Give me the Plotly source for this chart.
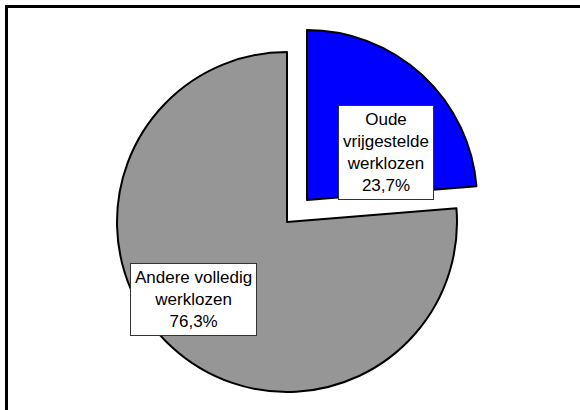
import plotly.graph_objects as go

labels = ["Oude vrijgestelde werklozen", "Andere volledig werklozen"]
values = [23.7, 76.3]
label_texts = ["Oude<br>vrijgestelde<br>werklozen<br>23,7%", "Andere volledig<br>werklozen<br>76,3%"]
colors = ["#0000FF", "#969696"]

W, H = 580, 410

def dom_x(a, b):
    return [a / W, b / W]

def dom_y(top, bottom):
    return [(H - bottom) / H, (H - top) / H]

fig = go.Figure()

# Main (unpulled) slice: grey
fig.add_trace(go.Pie(
    labels=labels, values=values, sort=False, direction="clockwise", rotation=0,
    marker=dict(colors=["rgba(0,0,0,0)", colors[1]],
                line=dict(color=["rgba(0,0,0,0)", "black"], width=[0, 2])),
    textinfo="none", hoverinfo="label+percent", showlegend=False,
    domain=dict(x=dom_x(117, 457), y=dom_y(52, 392)),
))
# Exploded slice: blue
fig.add_trace(go.Pie(
    labels=labels, values=values, sort=False, direction="clockwise", rotation=0,
    marker=dict(colors=[colors[0], "rgba(0,0,0,0)"],
                line=dict(color=["black", "rgba(0,0,0,0)"], width=[2, 0])),
    textinfo="none", hoverinfo="label+percent", showlegend=False,
    domain=dict(x=dom_x(137, 477), y=dom_y(30, 370)),
))

ann_pos = [(386, 152), (193, 299.5)]
for txt, (px, py) in zip(label_texts, ann_pos):
    fig.add_annotation(
        x=px / W, y=1 - py / H, xref="paper", yref="paper",
        xanchor="center", yanchor="middle",
        text=txt, showarrow=False, align="center",
        font=dict(family="Liberation Sans, Arial, sans-serif", size=17, color="black"),
        bgcolor="white", bordercolor="#333333", borderwidth=1, borderpad=4,
    )

fig.add_shape(type="rect", xref="paper", yref="paper",
              x0=6.5 / W, x1=1.05, y0=-0.05, y1=1 - 6.5 / H,
              line=dict(color="black", width=3), fillcolor="rgba(0,0,0,0)")

fig.update_layout(
    width=W, height=H, margin=dict(l=0, r=0, t=0, b=0),
    paper_bgcolor="white", plot_bgcolor="white",
)

fig.write_html("out.html", config={"displayModeBar": False},
               post_script="document.body.style.margin='0';")
